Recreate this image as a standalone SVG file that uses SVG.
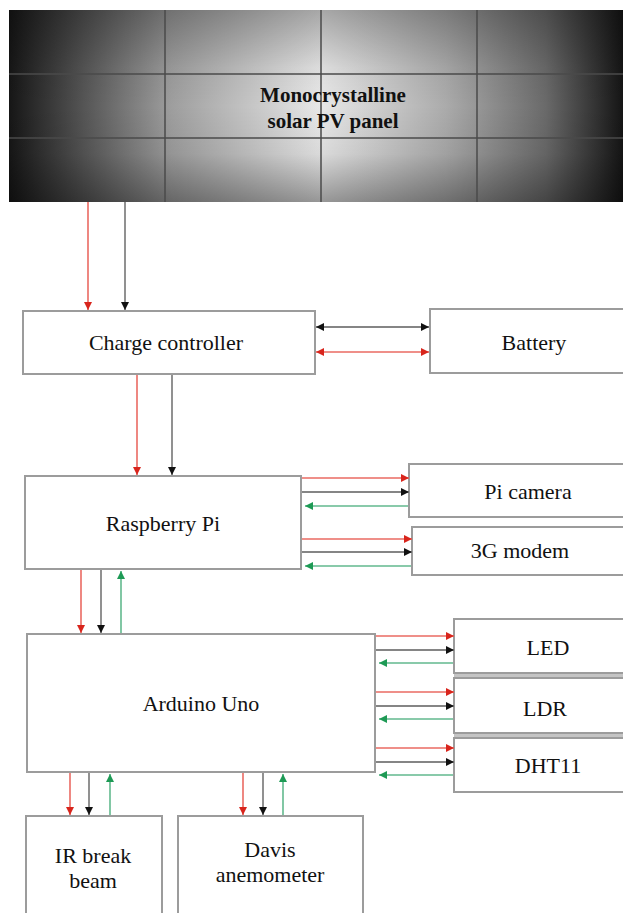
<svg xmlns="http://www.w3.org/2000/svg" width="623" height="913" viewBox="0 0 623 913">
<style>
.box{fill:#fff;stroke:#9c9c9c;stroke-width:2}
.shadow{fill:#c4c4c4;stroke:none}
text{font-family:'Liberation Serif','Times New Roman',Times,serif}
.t{font-size:22px;fill:#111;text-anchor:middle}
.tb{font-size:21px;font-weight:bold;fill:#111;text-anchor:middle}
.grid{stroke:#4a4a4a;stroke-width:2;opacity:0.75}
.r{stroke:#ea6a62;stroke-width:1.6;fill:none}
.k{stroke:#858585;stroke-width:1.8;fill:none}
.g{stroke:#62b98e;stroke-width:1.6;fill:none}
.r1{marker-end:url(#mr)}
.k1{marker-end:url(#mk)}
.g1{marker-end:url(#mg)}
.r2{marker-start:url(#mrs);marker-end:url(#mr)}
.k2{marker-start:url(#mks);marker-end:url(#mk)}
</style>
<defs>
<linearGradient id="hg" x1="9" y1="0" x2="633" y2="0" gradientUnits="userSpaceOnUse">
<stop offset="0" stop-color="#161616"/>
<stop offset="0.12" stop-color="#555"/>
<stop offset="0.26" stop-color="#9e9e9e"/>
<stop offset="0.5" stop-color="#e8e8e8"/>
<stop offset="0.7" stop-color="#ababab"/>
<stop offset="0.86" stop-color="#6a6a6a"/>
<stop offset="0.985" stop-color="#141414"/>
<stop offset="1" stop-color="#101010"/>
</linearGradient>
<linearGradient id="vg" x1="0" y1="10" x2="0" y2="202" gradientUnits="userSpaceOnUse">
<stop offset="0" stop-color="#000" stop-opacity="0.28"/>
<stop offset="0.3" stop-color="#000" stop-opacity="0.05"/>
<stop offset="0.5" stop-color="#000" stop-opacity="0"/>
<stop offset="0.75" stop-color="#000" stop-opacity="0.06"/>
<stop offset="1" stop-color="#000" stop-opacity="0.35"/>
</linearGradient>
<marker id="mr" viewBox="0 0 8 8" refX="8" refY="4" markerWidth="8" markerHeight="8" markerUnits="userSpaceOnUse" orient="auto"><path d="M0,0L8,4L0,8z" fill="#d8251c"/></marker>
<marker id="mk" viewBox="0 0 8 8" refX="8" refY="4" markerWidth="8" markerHeight="8" markerUnits="userSpaceOnUse" orient="auto"><path d="M0,0L8,4L0,8z" fill="#111"/></marker>
<marker id="mg" viewBox="0 0 8 8" refX="8" refY="4" markerWidth="8" markerHeight="8" markerUnits="userSpaceOnUse" orient="auto"><path d="M0,0L8,4L0,8z" fill="#1e9a55"/></marker>
<marker id="mrs" viewBox="0 0 8 8" refX="0" refY="4" markerWidth="8" markerHeight="8" markerUnits="userSpaceOnUse" orient="auto"><path d="M8,0L0,4L8,8z" fill="#d8251c"/></marker>
<marker id="mks" viewBox="0 0 8 8" refX="0" refY="4" markerWidth="8" markerHeight="8" markerUnits="userSpaceOnUse" orient="auto"><path d="M8,0L0,4L8,8z" fill="#111"/></marker>
</defs>
<rect width="623" height="913" fill="#fff"/>

<g id="solar-panel">
<rect x="9" y="10" width="624" height="192" fill="url(#hg)"/>
<rect x="9" y="10" width="624" height="192" fill="url(#vg)"/>
<line class="grid" x1="165" y1="10" x2="165" y2="202"/>
<line class="grid" x1="321" y1="10" x2="321" y2="202"/>
<line class="grid" x1="477" y1="10" x2="477" y2="202"/>
<line class="grid" x1="9" y1="74" x2="633" y2="74"/>
<line class="grid" x1="9" y1="138" x2="633" y2="138"/>
<text class="tb" x="333" y="102">Monocrystalline</text>
<text class="tb" x="333" y="128">solar PV panel</text>
</g>

<g id="charge-controller">
<rect class="box" x="23" y="311" width="292" height="63"/>
<text class="t" x="166" y="350">Charge controller</text>
</g>
<g id="battery">
<rect class="box" x="430" y="309" width="200" height="64"/>
<text class="t" x="534" y="350">Battery</text>
</g>
<g id="raspberry-pi">
<rect class="box" x="25" y="476" width="276" height="93"/>
<text class="t" x="163" y="531">Raspberry Pi</text>
</g>
<g id="pi-camera">
<rect class="box" x="409" y="464" width="220" height="53"/>
<text class="t" x="528" y="499">Pi camera</text>
</g>
<g id="modem-3g">
<rect class="box" x="412" y="527" width="220" height="48"/>
<text class="t" x="520" y="558">3G modem</text>
</g>
<g id="arduino-uno">
<rect class="box" x="27" y="634" width="348" height="138"/>
<text class="t" x="201" y="711">Arduino Uno</text>
</g>
<g id="led">
<rect class="shadow" x="454" y="672" width="175" height="5"/>
<rect class="box" x="454" y="619" width="180" height="54"/>
<text class="t" x="548" y="655">LED</text>
</g>
<g id="ldr">
<rect class="shadow" x="454" y="732" width="175" height="5"/>
<rect class="box" x="454" y="678" width="180" height="55"/>
<text class="t" x="545" y="716">LDR</text>
</g>
<g id="dht11">
<rect class="box" x="454" y="738" width="180" height="54"/>
<text class="t" x="548" y="773">DHT11</text>
</g>
<g id="ir-break-beam">
<rect class="box" x="26" y="816" width="136" height="110"/>
<text class="t" x="93" y="863">IR break</text>
<text class="t" x="93" y="888">beam</text>
</g>
<g id="davis-anemometer">
<rect class="box" x="178" y="816" width="185" height="110"/>
<text class="t" x="270" y="857">Davis</text>
<text class="t" x="270" y="882">anemometer</text>
</g>

<g id="connectors">
<line class="r r1" x1="88" y1="202" x2="88" y2="310"/>
<line class="k k1" x1="125" y1="202" x2="125" y2="310"/>
<line class="k k2" x1="316" y1="327" x2="429" y2="327"/>
<line class="r r2" x1="316" y1="352" x2="429" y2="352"/>
<line class="r r1" x1="137" y1="375" x2="137" y2="475"/>
<line class="k k1" x1="172" y1="375" x2="172" y2="475"/>
<line class="r r1" x1="302" y1="478" x2="409" y2="478"/>
<line class="k k1" x1="302" y1="492" x2="409" y2="492"/>
<line class="g g1" x1="408" y1="506" x2="305" y2="506"/>
<line class="r r1" x1="302" y1="539" x2="412" y2="539"/>
<line class="k k1" x1="302" y1="552" x2="412" y2="552"/>
<line class="g g1" x1="411" y1="566" x2="305" y2="566"/>
<line class="r r1" x1="81" y1="570" x2="81" y2="633"/>
<line class="k k1" x1="101" y1="570" x2="101" y2="633"/>
<line class="g g1" x1="121" y1="633" x2="121" y2="571"/>
<line class="r r1" x1="376" y1="636" x2="454" y2="636"/>
<line class="k k1" x1="376" y1="650" x2="454" y2="650"/>
<line class="g g1" x1="453" y1="663" x2="379" y2="663"/>
<line class="r r1" x1="376" y1="692" x2="454" y2="692"/>
<line class="k k1" x1="376" y1="706" x2="454" y2="706"/>
<line class="g g1" x1="453" y1="719" x2="379" y2="719"/>
<line class="r r1" x1="376" y1="748" x2="454" y2="748"/>
<line class="k k1" x1="376" y1="762" x2="454" y2="762"/>
<line class="g g1" x1="453" y1="775" x2="379" y2="775"/>
<line class="r r1" x1="70" y1="773" x2="70" y2="815"/>
<line class="k k1" x1="89" y1="773" x2="89" y2="815"/>
<line class="g g1" x1="110" y1="815" x2="110" y2="774"/>
<line class="r r1" x1="243" y1="773" x2="243" y2="815"/>
<line class="k k1" x1="263" y1="773" x2="263" y2="815"/>
<line class="g g1" x1="283" y1="815" x2="283" y2="774"/>
</g>
</svg>
